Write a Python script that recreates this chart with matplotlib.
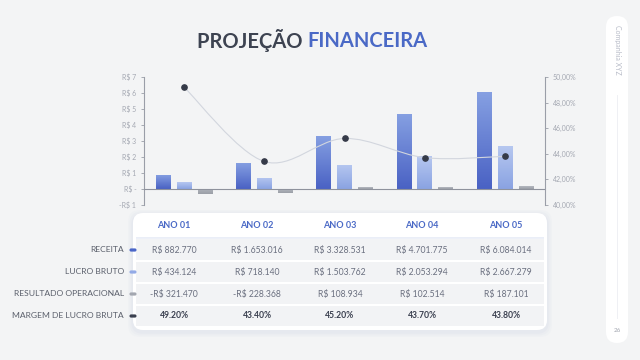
import numpy as np
import matplotlib
matplotlib.use("Agg")
import matplotlib.pyplot as plt
from matplotlib.patches import FancyBboxPatch, Rectangle, PathPatch
from matplotlib.path import Path

plt.rcParams['font.family'] = ['Lato', 'DejaVu Sans']

# data (R$)
anos = ['ANO 01', 'ANO 02', 'ANO 03', 'ANO 04', 'ANO 05']
receita = [882770, 1653016, 3328531, 4701775, 6084014]
lucro_bruto = [434124, 718140, 1503762, 2053294, 2667279]
resultado_op = [-321470, -228368, 108934, 102514, 187101]
margem = [49.20, 43.40, 45.20, 43.70, 43.80]

row_labels = ['RECEITA', 'LUCRO BRUTO', 'RESULTADO OPERACIONAL', 'MARGEM DE LUCRO BRUTA']
left_ticks = [-1, 0, 1, 2, 3, 4, 5, 6, 7]
right_ticks = [40, 42, 44, 46, 48, 50]

BG = '#f3f4f5'
DARK = '#3d4351'
BLUE = '#4a69c6'
GREY_TXT = '#a4a8b2'


def brl(v):
    s = f"{abs(v):,}".replace(',', '.')
    return ('-R$ ' if v < 0 else 'R$ ') + s


fig = plt.figure(figsize=(6.4, 3.6), dpi=100, facecolor=BG)

# overlay in pixel coordinates for the decorations and table
bg = fig.add_axes([0, 0, 1, 1], zorder=0)
bg.set_xlim(0, 640)
bg.set_ylim(360, 0)
bg.axis('off')

# title
t1 = bg.text(197, 41, 'PROJEÇÃO ', fontsize=14.5, fontweight='bold', color=DARK,
             ha='left', va='center')
fig.canvas.draw()
bb = t1.get_window_extent()
bg.text(197 + bb.width, 41, 'FINANCEIRA', fontsize=14.5, fontweight='bold',
        color=BLUE, ha='left', va='center')

# right side strip
bg.add_patch(FancyBboxPatch((606, 16), 22, 327, boxstyle='round,pad=0,rounding_size=11',
                            fc='white', ec='none'))
bg.plot([617, 617], [95, 318], color='#eceef2', lw=0.6)
bg.text(617, 25, 'Companhia XYZ', rotation=-90, fontsize=5, color='#b8bcc8',
        ha='center', va='top')
bg.text(617, 331, '26', fontsize=4.5, color='#a0a4ae', ha='center', va='center')

# table card with soft shadow
for i, a in enumerate([0.05, 0.07, 0.09]):
    g = 5 - i * 1.6
    bg.add_patch(FancyBboxPatch((133 - g, 213 - g + 2), 414 + 2 * g, 117 + 2 * g,
                                boxstyle='round,pad=0,rounding_size=12',
                                fc='#b8c4e0', ec='none', alpha=a))
bg.add_patch(FancyBboxPatch((133, 213), 414, 117, boxstyle='round,pad=0,rounding_size=10',
                            fc='white', ec='none'))
# header shadow
for i in range(6):
    bg.add_patch(Rectangle((136, 237 + i), 408, 1, fc='#dde3f2', ec='none',
                           alpha=0.6 - i * 0.1))
row_y = [250, 272, 294, 316]
for k, y in enumerate(row_y):
    top = y - 10 if k else 239
    bot = y + 10
    bg.add_patch(Rectangle((136, top), 408, bot - top, fc='#f2f3f5', ec='none'))

col_x = [174, 257, 340, 422, 506]
for x, a in zip(col_x, anos):
    bg.text(x, 225, a, fontsize=6.5, fontweight='bold', color=BLUE, ha='center', va='center')

marker_cols = ['#4a66c8', '#93aae6', '#a3a7b0', '#3a3f4f']
for y, lab, mc in zip(row_y, row_labels, marker_cols):
    bg.text(124, y, lab, fontsize=6.1, color='#5a5f6b', ha='right', va='center')
    bg.add_patch(FancyBboxPatch((129.5, y - 1.6), 7, 3.2, boxstyle='round,pad=0,rounding_size=1.6',
                                fc=mc, ec='none', zorder=5))

rows = [[brl(v) for v in receita], [brl(v) for v in lucro_bruto],
        [brl(v) for v in resultado_op], [f"{m:.2f}%" for m in margem]]
for k, (y, vals) in enumerate(zip(row_y, rows)):
    for x, s in zip(col_x, vals):
        if k == 3:
            bg.text(x, y, s, fontsize=6.2, fontweight='bold', color='#3a3f4f',
                    ha='center', va='center')
        else:
            bg.text(x, y, s, fontsize=6.2, color='#6b7080', ha='center', va='center')

# chart
ax = fig.add_axes([144 / 640, 1 - 205 / 360, 401 / 640, 128 / 360], zorder=2)
ax.patch.set_alpha(0)
x = np.arange(len(anos))
w = 0.18
off = 0.26
series = [
    (np.array(receita) / 1e6, -off, ('#4a62c4', '#86a0e2')),
    (np.array(lucro_bruto) / 1e6, 0.0, ('#8aa3e2', '#b6c7f0')),
    (np.array(resultado_op) / 1e6, off, ('#9a9ea6', '#b4b8c0')),
]
ax.set_xlim(-0.5, len(anos) - 0.5)
ax.set_ylim(left_ticks[0], left_ticks[-1])
for vals, dx, (c0, c1) in series:
    bars = ax.bar(x + dx, vals, width=w, color=c0, edgecolor='none', zorder=3)
    cmap = matplotlib.colors.LinearSegmentedColormap.from_list('g', [c0, c1])
    grad = np.linspace(0, 1, 64).reshape(-1, 1)
    for b in bars:
        x0, y0 = b.get_x(), b.get_y()
        bw, bh = b.get_width(), b.get_height()
        lo, hi = min(y0, y0 + bh), max(y0, y0 + bh)
        im = ax.imshow(grad, cmap=cmap, origin='lower', aspect='auto',
                       extent=(x0, x0 + bw, lo, hi), zorder=4)
        im.set_clip_path(b)
ax.set_xlim(-0.5, len(anos) - 0.5)
ax.set_ylim(left_ticks[0], left_ticks[-1])
ax.axhline(0, color='#8e929c', lw=0.8, zorder=5)

ax.set_yticks(left_ticks)
ax.set_yticklabels(['-R$ 1' if t < 0 else ('R$ -' if t == 0 else f'R$ {t}') for t in left_ticks])
ax.set_xticks([])
for s in ['top', 'bottom', 'right']:
    ax.spines[s].set_visible(False)
ax.spines['left'].set_color('#9a9ea8')
ax.spines['left'].set_linewidth(0.8)
ax.tick_params(axis='y', labelsize=5, colors='#9a9ea8', labelcolor=GREY_TXT,
               length=2.5, width=0.6, pad=3)

ax2 = ax.twinx()
ax2.set_ylim(right_ticks[0], right_ticks[-1])
ax2.set_yticks(right_ticks)
ax2.set_yticklabels([f"{t:.2f}%".replace('.', ',') for t in right_ticks])
for s in ['top', 'bottom', 'left']:
    ax2.spines[s].set_visible(False)
ax2.spines['right'].set_color('#9a9ea8')
ax2.spines['right'].set_linewidth(0.8)
ax2.tick_params(axis='y', labelsize=5, colors='#9a9ea8', labelcolor=GREY_TXT,
                length=2.5, width=0.6, pad=3)

# smoothed margin line as a bezier path through the points
pts = np.column_stack([x, margem]).astype(float)
ext = np.vstack([pts[0], pts, pts[-1]])
verts = [pts[0]]
codes = [Path.MOVETO]
for i in range(len(pts) - 1):
    p0, p1, p2, p3 = ext[i], ext[i + 1], ext[i + 2], ext[i + 3]
    verts += [p1 + (p2 - p0) / 6, p2 - (p3 - p1) / 6, p2]
    codes += [Path.CURVE4] * 3
ax2.add_patch(PathPatch(Path(verts, codes), fc='none', ec='#d2d6de', lw=0.8, zorder=3))
ax2.plot(x, margem, 'o', color='#353a48', ms=3.8, zorder=6)

fig.savefig('out.png', dpi=100, facecolor=BG)
